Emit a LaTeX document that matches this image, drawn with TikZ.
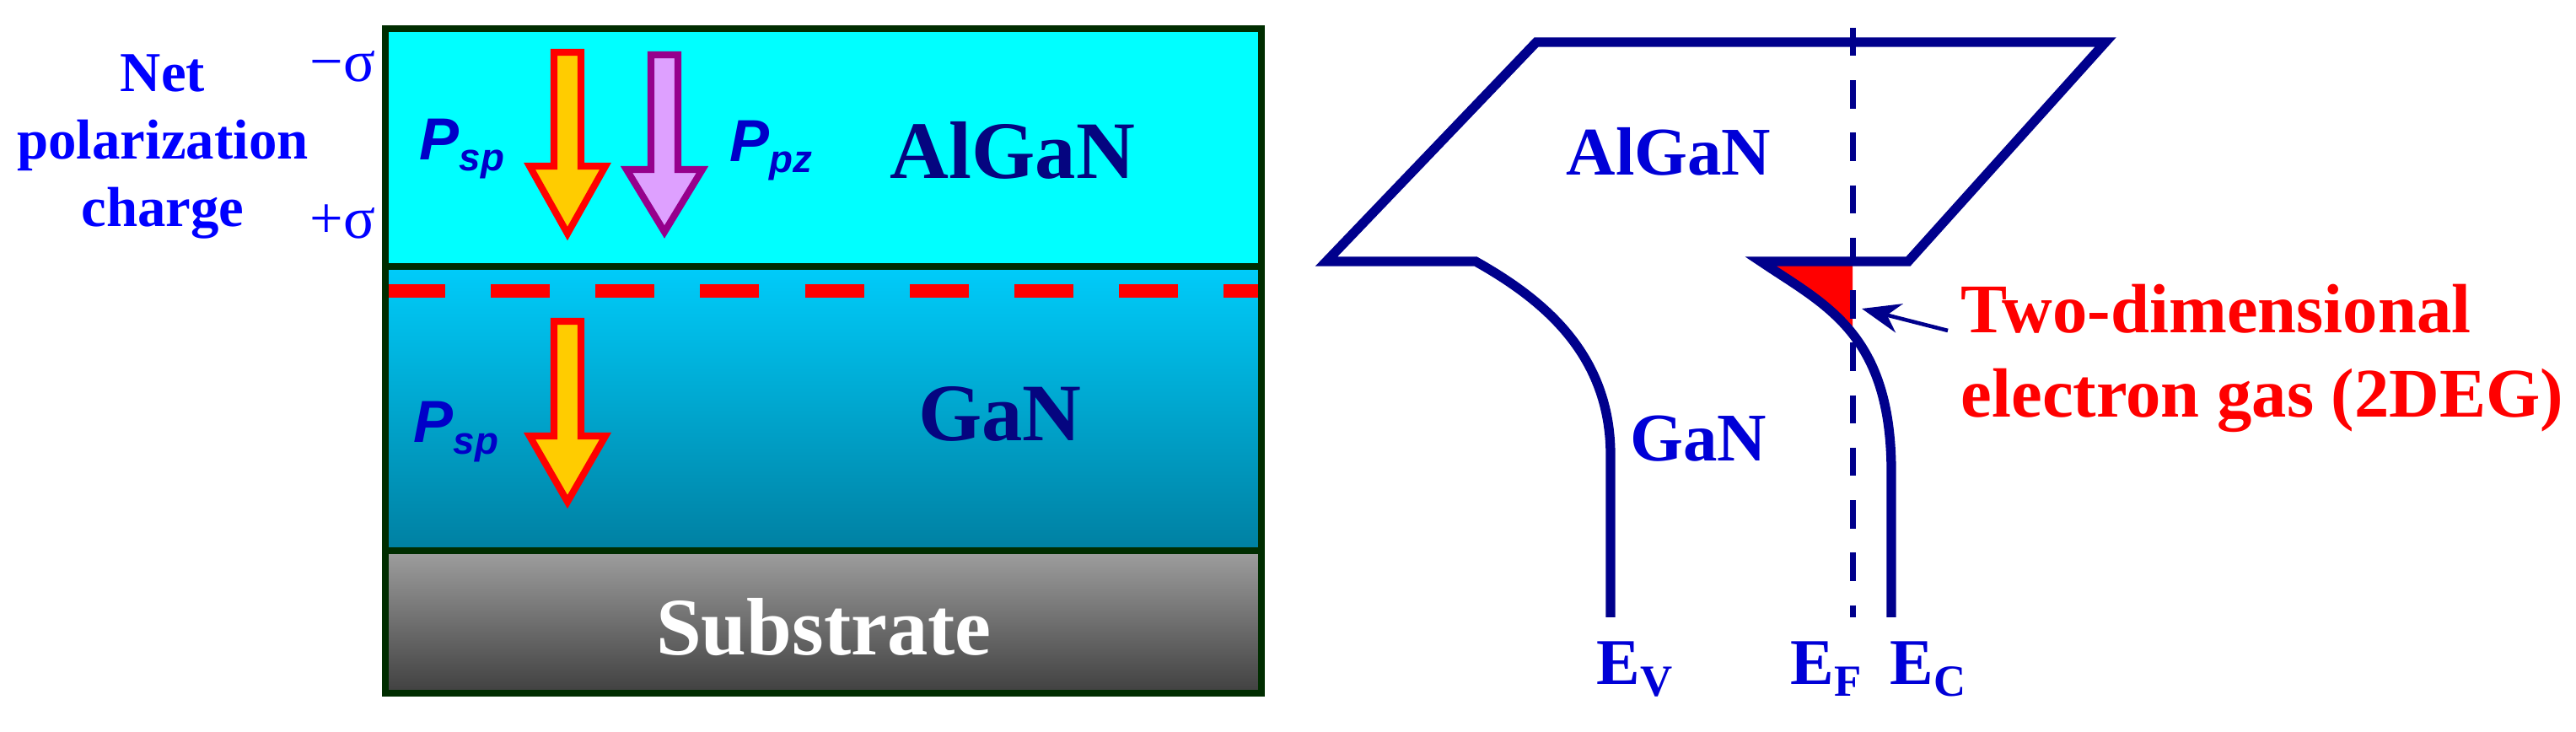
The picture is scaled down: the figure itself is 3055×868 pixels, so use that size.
\documentclass[tikz,border=0pt]{standalone}
\usepackage{fontspec}
\setmainfont{Liberation Serif}
\setsansfont{Liberation Sans}
\usetikzlibrary{arrows.meta}

\definecolor{alganfill}{RGB}{0,255,255}
\definecolor{gantop}{RGB}{0,204,250}
\definecolor{ganbot}{RGB}{0,128,162}
\definecolor{subtop}{RGB}{158,158,158}
\definecolor{subbot}{RGB}{64,64,64}
\definecolor{layerline}{RGB}{0,45,0}
\definecolor{netblue}{RGB}{0,0,255}
\definecolor{pblue}{RGB}{0,0,200}
\definecolor{navytext}{RGB}{5,5,128}
\definecolor{bandblue}{RGB}{0,0,140}
\definecolor{lblblue}{RGB}{0,0,215}
\definecolor{spgold}{RGB}{255,204,0}
\definecolor{pzviolet}{RGB}{222,160,255}
\definecolor{pzedge}{RGB}{150,0,140}

% lowered subscript: size, text
\newcommand{\lowsub}[2]{\raisebox{-3.7pt}{\fontsize{#1}{#1}\selectfont #2}}
% block arrow: style, x, top, head base, tip
\newcommand{\blockarrow}[5]{%
  \draw[#1] (#2-16,#3) -- (#2+16,#3) -- (#2+16,#4) -- (#2+45,#4) -- (#2,#5)
    -- (#2-45,#4) -- (#2-16,#4) -- cycle;}

\begin{document}
\begin{tikzpicture}[x=0.01cm,y=-0.01cm,line join=miter,
  layer/.style={draw=layerline,line width=2.5pt},
  sparrow/.style={fill=spgold,draw=red,line width=2.3pt},
  pzarrow/.style={fill=pzviolet,draw=pzedge,line width=2.3pt},
  laytext/.style={inner sep=0,font=\fontsize{27.5}{30}\selectfont\bfseries,text=navytext},
  plabel/.style={inner sep=0,anchor=base west,font=\fontsize{20}{22}\selectfont\sffamily\bfseries\itshape,text=pblue},
  sigma/.style={inner sep=0,anchor=base east,font=\fontsize{20}{22}\selectfont,text=netblue},
  band/.style={draw=bandblue,line width=3.2pt},
  bandtext/.style={inner sep=0,font=\fontsize{23}{28.5}\selectfont\bfseries,text=lblblue},
  elevel/.style={inner sep=0,anchor=base west,font=\fontsize{22}{24}\selectfont\bfseries,text=lblblue}]
\path[fill=white,use as bounding box] (0,0) rectangle (3055,868);

% layer stack
\fill[alganfill] (457,34) rectangle (1496,316);
\shade[top color=gantop,bottom color=ganbot] (457,316) rectangle (1496,653);
\shade[top color=subtop,bottom color=subbot] (457,653) rectangle (1496,822);
\draw[red,line width=4.5pt,dash pattern=on 19.9pt off 15.4pt] (458,345) -- (1492,345);
\draw[layer] (457,34) rectangle (1496,822);
\draw[layer] (457,316) -- (1496,316) (457,653) -- (1496,653);

\node[laytext,anchor=base] (alganl) at (1201,212) {AlGaN};
\node[laytext,anchor=base] (ganl) at (1186,523) {GaN};
\node[laytext,anchor=base,text=white] (substr) at (977,777) {Substrate};

% polarization
\blockarrow{sparrow}{673}{62}{197}{277}
\blockarrow{pzarrow}{788}{65}{201}{275}
\blockarrow{sparrow}{673}{381}{517}{595}
\node[plabel] (psptop) at (497,190) {P\lowsub{13}{sp}};
\node[plabel] (ppz) at (865,192) {P\lowsub{13}{pz}};
\node[plabel] (pspbot) at (490,525) {P\lowsub{13}{sp}};

\node[inner sep=0,align=center,text=netblue,font=\fontsize{19}{22.8}\selectfont\bfseries] (netq) at (193,174) {Net\\polarization\\charge};
\node[sigma] (sigmin) at (446,97) {−σ};
\node[sigma] (sigplus) at (446,283) {+σ};

% band diagram
\begin{scope}
  \clip (2080,312) rectangle (2197,430);
  \fill[red] (2088,310) .. controls (2165,362) and (2243,395) .. (2243,560) -- (2243,310) -- cycle;
\end{scope}
\draw[draw=bandblue,line width=2pt,dash pattern=on 9.5pt off 8.2pt] (2197,33) -- (2197,732);
\draw[band] (1910,732) -- (1910,540) .. controls (1910,420) and (1830,355) .. (1750,310)
  -- (1573,310) -- (1822,50) -- (2497,50) -- (2263,310) -- (2088,310)
  .. controls (2165,362) and (2243,395) .. (2243,560) -- (2243,732);

\node[bandtext,anchor=base] (alganr) at (1979,208) {AlGaN};
\node[bandtext,anchor=base] (ganr) at (2014,547) {GaN};
\node[elevel] (ev) at (1893,812) {E\lowsub{15}{V}};
\node[elevel] (ef) at (2123,812) {E\lowsub{15}{F}};
\node[elevel] (ec) at (2241,812) {E\lowsub{15}{C}};

\node[bandtext,text=red,align=left,anchor=west,font=\fontsize{23.5}{28.5}\selectfont\bfseries] (twodeg) at (2325,425) {Two-dimensional\\electron gas (2DEG)};
\coordinate (gas) at (2208,366);
\coordinate (gastail) at (2310,392);
\draw[-{Stealth[length=13pt,width=10pt]},draw=bandblue,line width=1.3pt] (gastail) -- (gas);
\end{tikzpicture}
\end{document}
